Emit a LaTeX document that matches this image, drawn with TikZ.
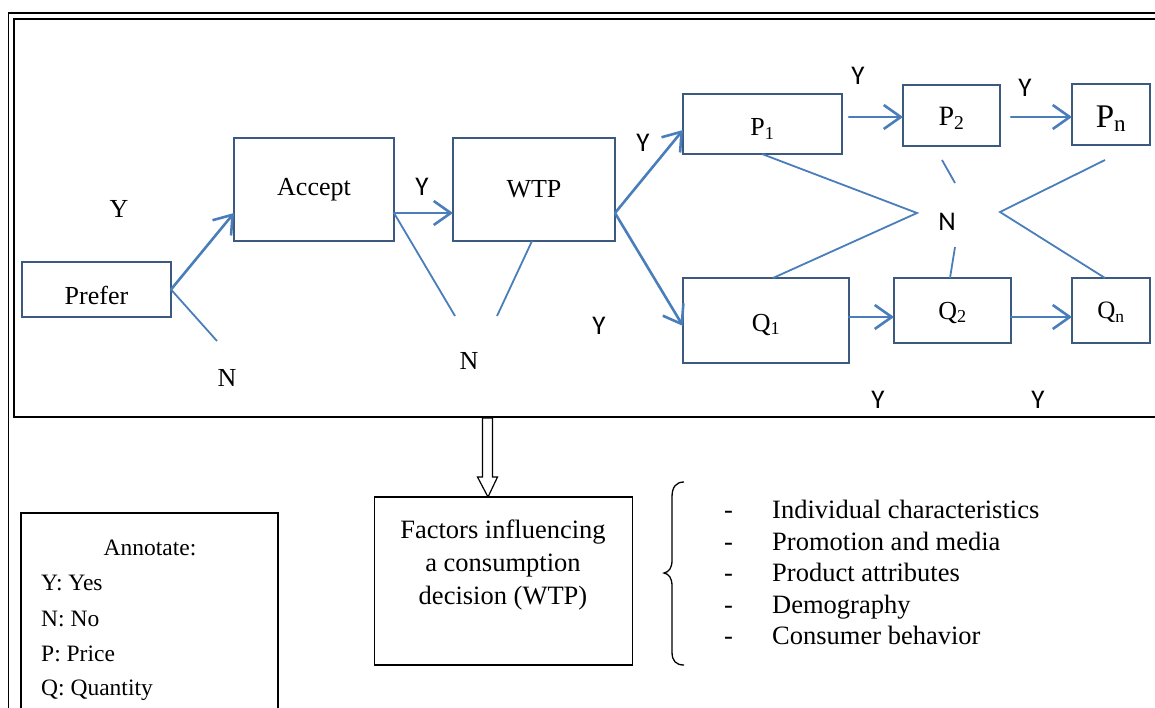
\documentclass[tikz,border=0pt]{standalone}
\usepackage{fontspec}
\setmainfont{Liberation Serif}
\newfontfamily\calfont{Carlito}
\usetikzlibrary{arrows.meta}
\definecolor{lineblue}{HTML}{4A7EBB}
\definecolor{boxedge}{HTML}{3C5A80}
\newcommand{\dn}[2]{\raisebox{-#1}[\height][\depth]{#2}}
\begin{document}
\begin{tikzpicture}[x=1pt,y=-1pt,
  box/.style={draw=boxedge, line width=1.2pt, inner sep=0pt, outer sep=0pt, rectangle},
  blackbox/.style={draw=black, line width=1.6pt, inner sep=0pt, outer sep=0pt, rectangle},
  flow/.style={draw=lineblue, line width=2.6pt, line cap=round, -{Straight Barb[length=17pt,width=24pt,line width=2.6pt]}},
  nline/.style={draw=lineblue, line width=1.8pt},
  ser/.style={font=\fontsize{26}{30}\selectfont},
  sans/.style={font=\calfont\fontsize{27}{30}\selectfont},
  small/.style={font=\fontsize{23.5}{28}\selectfont, inner sep=0pt},
  listitem/.style={font=\fontsize{26.5}{30}\selectfont, inner sep=0pt}]
\useasboundingbox (0,0) rectangle (1155,707);
% frames
\draw[line width=1.5pt] (8.5,13) rectangle (1180,730);
\draw[line width=2pt] (14,19) rectangle (1180,417);
% boxes
\node[box, minimum width=149pt, minimum height=55pt, ser] (prefer) at (96.5,289.5) {\dn{6pt}{Prefer}};
\node[box, minimum width=160pt, minimum height=103pt, ser] (accept) at (314,189.5) {Accept};
\node[box, minimum width=162pt, minimum height=103pt, ser] (wtp) at (534,189.5) {WTP};
\node[box, minimum width=159pt, minimum height=60pt, font=\fontsize{26}{28}\selectfont] (p1) at (762.5,124) {\dn{5pt}{P\textsubscript{1}}};
\node[box, minimum width=97pt, minimum height=61pt, font=\fontsize{28}{30}\selectfont] (p2) at (951.5,115.5) {\dn{3pt}{P\textsubscript{2}}};
\node[box, minimum width=78pt, minimum height=61pt, font=\fontsize{33}{36}\selectfont] (pn) at (1111,114.5) {\dn{4pt}{P\textsubscript{n}}};
\node[box, minimum width=166pt, minimum height=85pt, font=\fontsize{26}{28}\selectfont] (q1) at (766,320.5) {\dn{4pt}{Q\textsubscript{1}}};
\node[box, minimum width=117pt, minimum height=65pt, font=\fontsize{26}{28}\selectfont] (q2) at (952.5,310.5) {\dn{2pt}{Q\textsubscript{2}}};
\node[box, minimum width=78pt, minimum height=65pt, font=\fontsize{25}{28}\selectfont] (qn) at (1111,310.5) {\dn{2pt}{Q\textsubscript{n}}};
% free ends
\coordinate (nA) at (217,341);
\coordinate (nB1) at (455,316);
\coordinate (nB2) at (497,316);
\coordinate (nL) at (917,213);
\coordinate (p2a) at (942,160);
\coordinate (p2b) at (955,183);
\coordinate (q2a) at (955,247);
\coordinate (pnA) at (1105,160);
\coordinate (nR) at (1000,212);
% connectors
\draw[flow] (prefer.east) -- ([yshift=-23.5pt]accept.west);
\draw[nline] (prefer.east) -- (nA);
\draw[flow] ([yshift=-23.5pt]accept.east) -- ([yshift=-23.5pt]wtp.west);
\draw[nline] ([yshift=-23.5pt]accept.east) -- (nB1);
\draw[nline] ([xshift=-2pt]wtp.south) -- (nB2);
\draw[flow] ([yshift=-23.5pt]wtp.east) -- ([yshift=-6pt]p1.west);
\draw[flow] ([yshift=-23.5pt]wtp.east) -- ([yshift=-5.5pt]q1.west);
\draw[flow] ([xshift=7pt,yshift=7pt]p1.east) -- ([yshift=-1.5pt]p2.west);
\draw[flow] ([xshift=11pt,yshift=-1.5pt]p2.east) -- ([yshift=-2.5pt]pn.west);
\draw[flow] ([yshift=3.5pt]q1.east) -- ([yshift=-6.5pt]q2.west);
\draw[flow] ([yshift=-6.5pt]q2.east) -- ([yshift=-6.5pt]qn.west);
\draw[nline] ([xshift=-0.5pt]p1.south) -- (nL) -- ([xshift=7pt]q1.north);
\draw[nline] (p2a) -- (p2b);
\draw[nline] ([xshift=-2.5pt]q2.north) -- (q2a);
\draw[nline] (pnA) -- (nR) -- ([xshift=-6pt]qn.north);
% labels
\node[ser] (lY1) at (119,209) {Y};
\node[ser] (lN1) at (227,378) {N};
\node[sans] (lY2) at (422,187) {Y};
\node[ser] (lN2) at (469,361) {N};
\node[sans] (lY3) at (643,143) {Y};
\node[sans] (lY4) at (599,326) {Y};
\node[sans] (lY5) at (858,76) {Y};
\node[sans] (lY6) at (1025,88) {Y};
\node[sans] (lN3) at (947,222) {N};
\node[sans] (lY7) at (878,400) {Y};
\node[sans] (lY8) at (1038,400) {Y};
% factors box
\node[blackbox, minimum width=258pt, minimum height=168pt] (factors) at (503.5,581) {};
\node[align=center, font=\fontsize{26.5}{33}\selectfont, inner sep=0pt] (ftext) at (503,565) {Factors influencing\\a consumption\\decision (WTP)};
\draw[line width=1.2pt, fill=white] ([xshift=-15.5pt]factors.north) -- ++(-10.5,-20) -- ++(5,0) -- ++(0,-59) -- ++(10,0) -- ++(0,59) -- ++(5,0) -- cycle;
% brace
\draw[line width=1.3pt] (684,482) .. controls (676,482) and (672,487) .. (672,497) -- (672,560) .. controls (672,568) and (669,572) .. (664,573) .. controls (669,574) and (672,578) .. (672,586) -- (672,652) .. controls (672,661) and (676,665) .. (684,665);
% list
\coordinate (dashx) at (724,0);
\foreach \yy/\txt [count=\i] in {518/Individual characteristics, 550/Promotion and media, 581/Product attributes, 613/Demography, 644/Consumer behavior}{
  \node[listitem, anchor=base west] (item\i) at (772,\yy) {\txt};
  \node[listitem, anchor=base west] (dash\i) at (item\i.base -| dashx) {-};
}
% annotate box
\draw[line width=1.6pt] (21,513) rectangle (278,730);
\node[small] (ann) at (150,548) {Annotate:};
\node[small, anchor=west] (a1) at (41,583) {Y: Yes};
\node[small, anchor=west] (a2) at (41,619) {N: No};
\node[small, anchor=west] (a3) at (41,654) {P: Price};
\node[small, anchor=west] (a4) at (41,690) {Q: Quantity};
\end{tikzpicture}
\end{document}
